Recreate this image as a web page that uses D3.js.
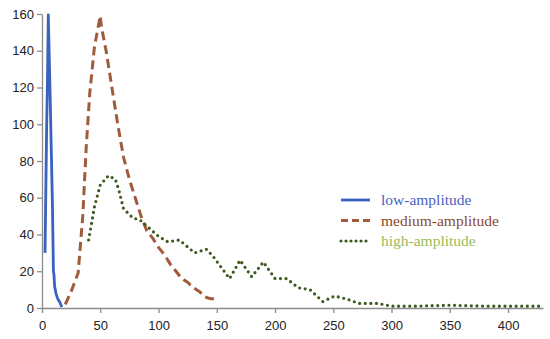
<!DOCTYPE html>
<html>
<head>
<meta charset="utf-8">
<script src="https://cdn.jsdelivr.net/npm/d3@7"></script>
<style>
  body { margin: 0; background: #fff; }
  svg { display: block; }
</style>
</head>
<body>
<svg id="chart"></svg>
<script>
const xTicks = [0, 50, 100, 150, 200, 250, 300, 350, 400];
const yTicks = [0, 20, 40, 60, 80, 100, 120, 140, 160];

const lowX = [2.6, 4, 4.6, 5.4, 7, 9, 9.8, 10.3, 10.8, 12, 13.5, 15.4, 17];
const lowY = [30, 99, 120, 159.5, 115, 55, 20, 18, 12, 8, 5, 3, 0.5];

const medX = [20, 25, 31, 35, 38, 41, 45, 50, 51, 55, 60, 65, 70, 75, 80, 85, 90, 95, 100, 105, 110, 115, 120, 125, 130, 135, 140, 145, 150];
const medY = [2, 9, 19, 50, 88, 117, 142, 159, 153, 140, 120, 100, 82, 70, 60, 50, 42, 38, 33, 29, 24, 20, 16, 14, 11, 9, 6, 5, 5];

const highX = [40, 45, 50, 57, 63, 66, 70, 78, 84, 91, 100, 108, 118, 131, 141, 147, 161, 170, 180, 190, 200, 210, 220, 230, 241, 251, 261, 272, 288, 300, 320, 350, 380, 410, 430];
const highY = [37, 55, 67, 72, 70, 64, 54, 49, 48, 44, 39, 36, 37, 30, 32, 28, 16, 26, 17, 25, 16, 16, 11, 10, 3.5, 6.5, 5, 2.5, 2.5, 1, 1, 1.5, 1, 1, 1];

const seriesNames = ["low-amplitude", "medium-amplitude", "high-amplitude"];
const lineColors = ["#3a62c0", "#a05a3c", "#3d5a1e"];
const textColors = ["#4a5fc1", "#8b4a2b", "#9bbb59"];

const width = 550, height = 339;
const svg = d3.select("#chart").attr("width", width).attr("height", height);

const x = d3.scaleLinear().domain([0, 430]).range([42, 543]);
const y = d3.scaleLinear().domain([0, 160]).range([308, 14]);

const axisColor = "#8c8c8c";

const gx = svg.append("g").attr("transform", `translate(0,${y(0)})`)
  .call(d3.axisBottom(x).tickValues(xTicks).tickSize(5).tickSizeOuter(0));
const gy = svg.append("g").attr("transform", `translate(${x(0)},0)`)
  .call(d3.axisLeft(y).tickValues(yTicks).tickSize(5).tickSizeOuter(0));

[gx, gy].forEach(g => {
  g.select(".domain").attr("stroke", axisColor).attr("stroke-width", 1.3);
  g.selectAll(".tick line").attr("stroke", axisColor).attr("stroke-width", 1.3);
  g.selectAll(".tick text").attr("fill", "#222").style("font-family", "'Liberation Sans', Arial, sans-serif").style("font-size", "13px");
});
gx.selectAll(".tick text").attr("dy", "1.05em");
gy.selectAll(".tick text").attr("x", -8);

const line = d3.line().x(d => x(d[0])).y(d => y(d[1]));

const series = [
  {pts: d3.zip(lowX, lowY), dash: null, w: 2.8, cap: "butt"},
  {pts: d3.zip(medX, medY), dash: "9,5", w: 3, cap: "butt"},
  {pts: d3.zip(highX, highY), dash: "0,5.6", w: 3.2, cap: "round"}
];

series.forEach((s, i) => {
  svg.append("path").datum(s.pts)
    .attr("d", line)
    .attr("fill", "none")
    .attr("stroke", lineColors[i])
    .attr("stroke-width", s.w)
    .attr("stroke-linecap", s.cap)
    .attr("stroke-linejoin", "round")
    .attr("stroke-dasharray", s.dash);
});

// legend
const legend = svg.append("g");
series.forEach((s, i) => {
  const ly = 200 + i * 20.5;
  legend.append("line")
    .attr("x1", 341).attr("x2", 370).attr("y1", ly).attr("y2", ly)
    .attr("stroke", lineColors[i]).attr("stroke-width", s.w)
    .attr("stroke-linecap", s.cap)
    .attr("stroke-dasharray", i === 1 ? "7,4" : i === 2 ? "0,5" : null);
  legend.append("text")
    .attr("x", 381).attr("y", ly + 5)
    .attr("fill", textColors[i])
    .style("font-family", "'Liberation Serif', 'Times New Roman', serif")
    .style("font-size", "15.5px")
    .text(seriesNames[i]);
});
</script>
</body>
</html>
